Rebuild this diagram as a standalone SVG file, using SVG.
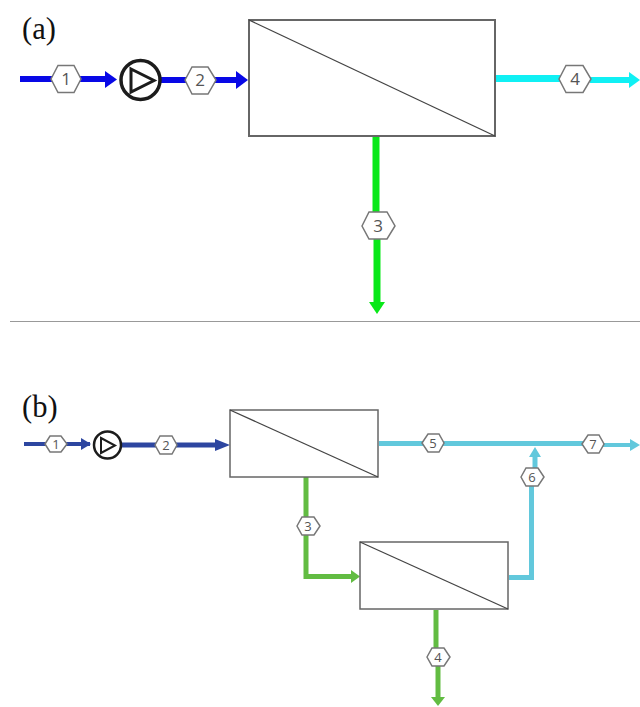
<svg xmlns="http://www.w3.org/2000/svg" width="640" height="707" viewBox="0 0 640 707">
<style>
.lbl{font-family:"Liberation Serif","Times New Roman",serif;font-size:30.500px;fill:#111}
.box{fill:#fff;stroke:#666;stroke-width:2}
.dia{stroke:#444;stroke-width:1.300;fill:none}
.hex{fill:#fff;stroke:#777;stroke-width:1.500}
.n{font-family:"Open Sans","Liberation Sans",sans-serif;fill:#555;text-anchor:middle}
.na{font-size:17px}
.nb{font-size:13px}
.pc{fill:#fff;stroke:#1c1c1c}
.pt{fill:none;stroke:#1c1c1c;stroke-linejoin:miter}
.l{fill:none}
.blue{stroke:#0808e6}.cyan{stroke:#10f0f4}.green{stroke:#08e818}
.navy{stroke:#2d46a0}.sky{stroke:#62c8dc}.leaf{stroke:#62bc42}
.fblue{fill:#0808e6}.fcyan{fill:#10f0f4}.fgreen{fill:#08e818}
.fnavy{fill:#2d46a0}.fsky{fill:#62c8dc}.fleaf{fill:#62bc42}
</style>
<rect width="640" height="707" fill="#fff"/>
<text class="lbl" x="22" y="39">(a)</text>
<text class="lbl" x="22" y="417">(b)</text>
<line x1="10" y1="321.500" x2="640" y2="321.500" stroke="#999" stroke-width="1"/>
<g id="connectors">
<g class="l blue" stroke-width="6">
<path d="M20 79H108"/><path d="M160 80H240"/>
</g>
<polygon class="fblue" points="105,71 117,79.500 105,88"/>
<polygon class="fblue" points="236,71 248,80 236,89"/>
<path class="l cyan" stroke-width="7" d="M496 78.500H560"/>
<path class="l cyan" stroke-width="6" d="M590 80H632"/>
<polygon class="fcyan" points="629,72 640,80 629,88"/>
<path class="l green" stroke-width="7" d="M376 137V215"/>
<path class="l green" stroke-width="7" d="M377 235V304"/>
<polygon class="fgreen" points="369,302 385,302 377,314"/>

<g class="l navy" stroke-width="4">
<path d="M24 444H90"/>
</g>
<polygon class="fnavy" points="81,438 91,444 81,450"/>
<path class="l navy" stroke-width="5" d="M120 445H220"/>
<polygon class="fnavy" points="215,439 230,445 215,451"/>
<path class="l sky" stroke-width="5" d="M379 443.500H585"/>
<path class="l sky" stroke-width="4" d="M600 445H634"/>
<polygon class="fsky" points="630,439 640,445 630,451"/>
<path class="l leaf" stroke-width="5" d="M306 477V576.500H352"/>
<polygon class="fleaf" points="351,570 360,576.500 351,583"/>
<path class="l sky" stroke-width="5" d="M509 577.500H531.500V480"/>
<path class="l sky" stroke-width="5" d="M535 470V455"/>
<polygon class="fsky" points="529,457 541,457 535,447"/>
<path class="l leaf" stroke-width="5" d="M436 610V650"/>
<path class="l leaf" stroke-width="5" d="M438 665V698"/>
<polygon class="fleaf" points="431,697 445,697 438,706"/>
</g>
<g id="a-membrane"><rect class="box" x="249" y="20" width="246" height="116"/><line class="dia" x1="249" y1="20" x2="495" y2="136"/></g>
<g id="a-pump"><circle class="pc" cx="140.500" cy="80" r="19.500" stroke-width="3.500"/><polygon class="pt" points="131,69 154,80.500 131,92" stroke-width="3"/></g>
<g id="a-s1"><polygon class="hex" points="51,79 58,65.500 74,65.500 81,79 74,92.500 58,92.500"/><text class="n na" x="66" y="85">1</text></g>
<g id="a-s2"><polygon class="hex" points="185,80 192,67 208,67 216,80 208,94 192,94"/><text class="n na" x="200" y="86">2</text></g>
<g id="a-s3"><polygon class="hex" points="362,226 369,212 387,212 395,226 387,239 369,239"/><text class="n na" x="378" y="232">3</text></g>
<g id="a-s4"><polygon class="hex" points="559,79 566,65.500 583,65.500 591,79 583,92.500 566,92.500"/><text class="n na" x="575" y="85">4</text></g>

<g id="b-membrane-1"><rect class="box" x="230" y="410" width="148" height="67" style="stroke-width:1.500"/><line class="dia" x1="230" y1="410" x2="378" y2="477"/></g>
<g id="b-membrane-2"><rect class="box" x="360" y="542" width="148" height="67" style="stroke-width:1.500"/><line class="dia" x1="360" y1="542" x2="508" y2="609"/></g>
<g id="b-pump"><circle class="pc" cx="107.500" cy="445" r="13.500" stroke-width="2.500"/><polygon class="pt" points="101,438 115,445.500 101,453" stroke-width="2"/></g>
<g id="b-s1"><polygon class="hex" points="45,444 50,436 61,436 67,444 61,452 50,452"/><text class="n nb" x="56" y="448.500">1</text></g>
<g id="b-s2"><polygon class="hex" points="155,445 160,436 172,436 177,445 172,454 160,454"/><text class="n nb" x="166" y="449.500">2</text></g>
<g id="b-s3"><polygon class="hex" points="297,526 302,517 314,517 320,526 314,535 302,535"/><text class="n nb" x="308" y="530.500">3</text></g>
<g id="b-s4"><polygon class="hex" points="427,657 432,648 444,648 450,657 444,666 432,666"/><text class="n nb" x="438" y="661.500">4</text></g>
<g id="b-s5"><polygon class="hex" points="422,443 428,434 439,434 444,443 439,452 428,452"/><text class="n nb" x="433" y="447.500">5</text></g>
<g id="b-s6"><polygon class="hex" points="521,477 526,468 538,468 544,477 538,486 526,486"/><text class="n nb" x="532" y="481.500">6</text></g>
<g id="b-s7"><polygon class="hex" points="582,444 588,435 599,435 604,444 599,453 588,453"/><text class="n nb" x="593" y="448.500">7</text></g>
</svg>
